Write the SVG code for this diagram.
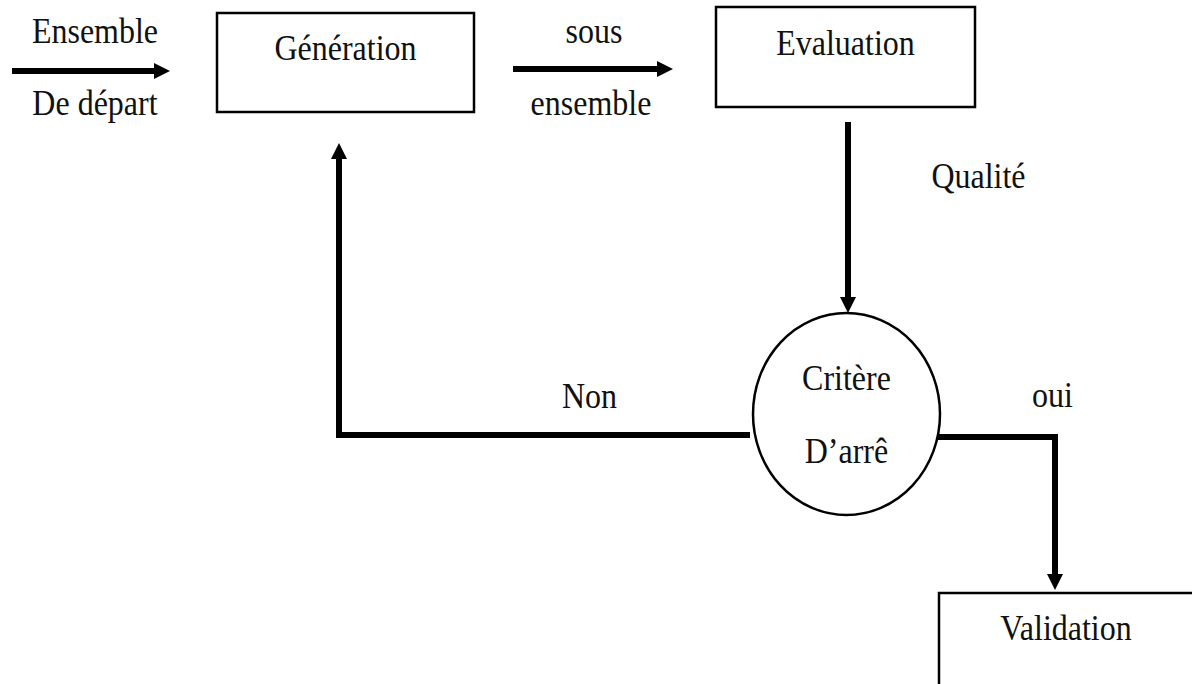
<svg xmlns="http://www.w3.org/2000/svg" width="1192" height="684" viewBox="0 0 1192 684">
<style>
.box{fill:#fff;stroke:#000;stroke-width:2.5}
.lbl{font-family:"Liberation Serif","Times New Roman",serif;font-size:32px;fill:#111;text-anchor:middle}
.conn{fill:none;stroke:#000;stroke-width:6;stroke-linejoin:miter}
</style>
<defs>
<marker id="ah" markerUnits="userSpaceOnUse" markerWidth="16" markerHeight="16" viewBox="0 0 16 16" refX="0" refY="8" orient="auto">
<path d="M0,0 L16,8 L0,16 z" fill="#000"/>
</marker>
</defs>
<rect width="1192" height="684" fill="#fff"/>
<g id="connectors">
<path class="conn" d="M12,71 H154" marker-end="url(#ah)"/>
<path class="conn" d="M513,69 H657" marker-end="url(#ah)"/>
<path class="conn" d="M848,122 V297" marker-end="url(#ah)"/>
<path class="conn" d="M750,435 H339 V159" marker-end="url(#ah)"/>
<path class="conn" d="M937,437 H1055 V574" marker-end="url(#ah)"/>
</g>
<g id="labels">
<text class="lbl" x="95" y="43" transform="matrix(1,0,0,1.1,0,-4.3)">Ensemble</text>
<text class="lbl" x="95" y="115" transform="matrix(1,0,0,1.1,0,-11.5)">De départ</text>
<text class="lbl" x="594" y="43" transform="matrix(1,0,0,1.1,0,-4.3)">sous</text>
<text class="lbl" x="591" y="115" transform="matrix(1,0,0,1.1,0,-11.5)">ensemble</text>
<text class="lbl" x="978.5" y="188" transform="matrix(1,0,0,1.1,0,-18.8)">Qualité</text>
<text class="lbl" x="589.5" y="408" transform="matrix(1,0,0,1.1,0,-40.8)">Non</text>
<text class="lbl" x="1052.5" y="407" transform="matrix(1,0,0,1.1,0,-40.7)">oui</text>
</g>
<g id="generation">
<rect class="box" x="217" y="13" width="257" height="99"/>
<text class="lbl" x="345.5" y="60" transform="matrix(1,0,0,1.1,0,-6)">Génération</text>
</g>
<g id="evaluation">
<rect class="box" x="716" y="7" width="259" height="100"/>
<text class="lbl" x="845.5" y="55" transform="matrix(1,0,0,1.1,0,-5.5)">Evaluation</text>
</g>
<g id="critere">
<ellipse class="box" cx="846.5" cy="414" rx="93.5" ry="101"/>
<text class="lbl" x="846.5" y="390" transform="matrix(1,0,0,1.1,0,-39)">Critère</text>
<text class="lbl" x="846.5" y="463" transform="matrix(1,0,0,1.1,0,-46.3)">D’arrê</text>
</g>
<g id="validation">
<rect class="box" x="939" y="593" width="270" height="110"/>
<text class="lbl" x="1066" y="640" transform="matrix(1,0,0,1.1,0,-64)">Validation</text>
</g>
</svg>
